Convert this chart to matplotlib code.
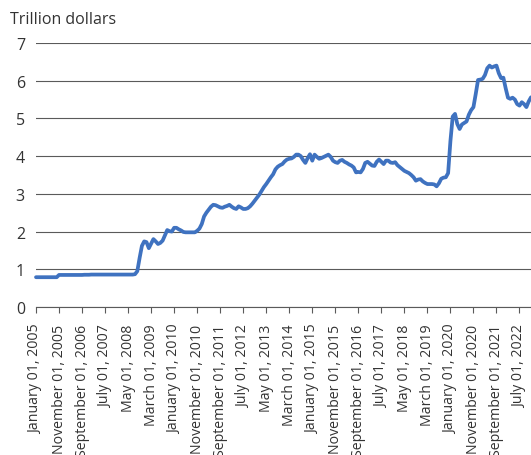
import matplotlib
matplotlib.use("Agg")
import matplotlib.pyplot as plt
import pandas as pd

# Monthly values (trillion dollars), Jan 2005 - Dec 2022
v2005 = [0.79, 0.79, 0.79, 0.79, 0.79, 0.79, 0.79, 0.79, 0.79, 0.79, 0.85, 0.85]
v2006 = [0.85, 0.85, 0.85, 0.85, 0.85, 0.85, 0.85, 0.85, 0.85, 0.855, 0.855, 0.855]
v2007 = [0.86, 0.86, 0.86, 0.86, 0.86, 0.86, 0.86, 0.86, 0.86, 0.86, 0.86, 0.86]
v2008 = [0.86, 0.86, 0.86, 0.86, 0.86, 0.86, 0.86, 0.87, 0.95, 1.30, 1.62, 1.74]
v2009 = [1.72, 1.56, 1.68, 1.80, 1.74, 1.67, 1.70, 1.76, 1.90, 2.04, 2.01, 2.00]
v2010 = [2.10, 2.10, 2.06, 2.03, 1.99, 1.98, 1.98, 1.98, 1.98, 1.98, 2.02, 2.08]
v2011 = [2.20, 2.40, 2.50, 2.58, 2.66, 2.71, 2.70, 2.67, 2.64, 2.63, 2.66, 2.68]
v2012 = [2.71, 2.66, 2.62, 2.60, 2.67, 2.64, 2.60, 2.60, 2.62, 2.67, 2.74, 2.82]
v2013 = [2.90, 2.98, 3.08, 3.18, 3.26, 3.35, 3.44, 3.52, 3.65, 3.72, 3.76, 3.79]
v2014 = [3.86, 3.91, 3.93, 3.94, 3.98, 4.04, 4.04, 4.00, 3.90, 3.82, 3.95, 4.05]
v2015 = [3.88, 4.04, 3.98, 3.93, 3.95, 3.98, 4.01, 4.04, 3.98, 3.88, 3.84, 3.82]
v2016 = [3.88, 3.90, 3.85, 3.82, 3.78, 3.75, 3.70, 3.57, 3.58, 3.57, 3.66, 3.82]
v2017 = [3.85, 3.80, 3.75, 3.74, 3.85, 3.91, 3.85, 3.79, 3.88, 3.88, 3.83, 3.82]
v2018 = [3.84, 3.76, 3.71, 3.66, 3.61, 3.58, 3.55, 3.50, 3.44, 3.35, 3.38, 3.39]
v2019 = [3.33, 3.29, 3.26, 3.26, 3.26, 3.25, 3.20, 3.28, 3.40, 3.43, 3.44, 3.55]
v2020 = [4.40, 5.05, 5.12, 4.85, 4.72, 4.84, 4.88, 4.92, 5.10, 5.22, 5.30, 5.65]
v2021 = [6.02, 6.03, 6.05, 6.15, 6.33, 6.40, 6.35, 6.38, 6.40, 6.20, 6.07, 6.08]
v2022 = [5.80, 5.55, 5.52, 5.55, 5.50, 5.38, 5.34, 5.43, 5.38, 5.30, 5.45, 5.56]

values = (v2005 + v2006 + v2007 + v2008 + v2009 + v2010 + v2011 + v2012 + v2013
          + v2014 + v2015 + v2016 + v2017 + v2018 + v2019 + v2020 + v2021 + v2022)
dates = pd.date_range("2005-01-01", periods=len(values), freq="MS")
tick_step = 10
y_ticks = [0, 1, 2, 3, 4, 5, 6, 7]
y_label = "Trillion dollars"

FONT = "Open Sans"
plt.rcParams["font.family"] = [FONT, "DejaVu Sans"]

fig = plt.figure(figsize=(5.31, 4.56), dpi=100)
ax = fig.add_axes([36 / 531, 1 - 308 / 456, 1 - 36 / 531, (308 - 44) / 456])

x = list(range(len(values)))
ax.plot(x, values, color="#3F72C0", linewidth=2.7, solid_joinstyle="round",
        solid_capstyle="round", zorder=3, clip_on=False)

ax.set_xlim(0, len(values) - 1)
ax.set_ylim(0, 7)
ax.set_yticks(y_ticks)
ax.set_yticklabels([str(t) for t in y_ticks])
tick_pos = list(range(0, len(values), tick_step))
ax.set_xticks(tick_pos)
ax.set_xticklabels([dates[i].strftime("%B %d, %Y") for i in tick_pos], rotation=90,
                   ha="center", va="top")

ax.grid(axis="y", color="#5a5a5a", linewidth=0.8, zorder=1)
ax.set_axisbelow(True)
for s in ["top", "right", "left"]:
    ax.spines[s].set_visible(False)
ax.spines["bottom"].set_color("#5a5a5a")
ax.spines["bottom"].set_linewidth(0.8)
ax.tick_params(axis="y", length=0, pad=8, labelsize=11.5, labelcolor="#333333")
ax.tick_params(axis="x", length=4, width=0.8, color="#5a5a5a", pad=8,
               labelsize=10.2, labelcolor="#333333")

fig.text(10 / 531, 1 - 20 / 456, y_label, ha="left", va="center", fontsize=11.5,
         color="#333333")

fig.savefig("out.png", dpi=100)
